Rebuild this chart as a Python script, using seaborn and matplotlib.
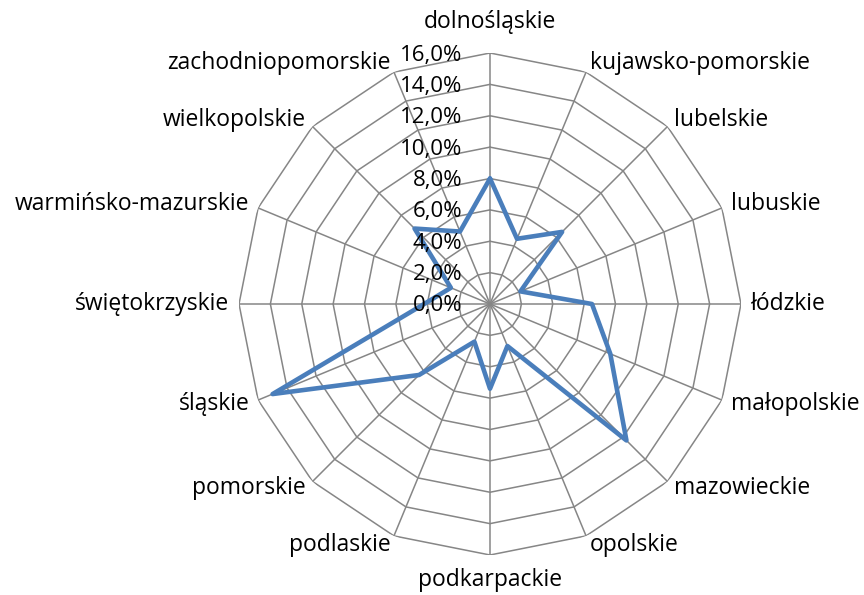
import numpy as np
import matplotlib
matplotlib.use("Agg")
import matplotlib.pyplot as plt
import seaborn as sns

# --- data ---
regions = ["dolnośląskie", "kujawsko-pomorskie", "lubelskie", "lubuskie", "łódzkie",
           "małopolskie", "mazowieckie", "opolskie", "podkarpackie", "podlaskie",
           "pomorskie", "śląskie", "świętokrzyskie", "warmińsko-mazurskie",
           "wielkopolskie", "zachodniopomorskie"]
shares = [8.0, 4.5, 6.5, 2.1, 6.5, 8.3, 12.3, 2.9, 5.4, 2.6, 6.4, 15.0, 4.2, 2.7, 6.8, 5.0]
r_ticks = [0, 2, 4, 6, 8, 10, 12, 14, 16]
r_tick_labels = ["0,0%", "2,0%", "4,0%", "6,0%", "8,0%", "10,0%", "12,0%", "14,0%", "16,0%"]

sns.set_style("white")
plt.rcParams['font.family'] = ['Open Sans', 'DejaVu Sans']

grid_col = "#868686"
line_col = "#4A7EBB"

fig = plt.figure(figsize=(8.64, 5.95), dpi=100)
ax = fig.add_axes([239 / 864, 40 / 595, 502 / 864, 502 / 595], projection="polar")
ax.set_theta_zero_location("N")
ax.set_theta_direction(-1)
ax.set_ylim(0, 16)
ax.grid(False)
ax.set_xticks([])
ax.set_yticks([])
ax.spines["polar"].set_visible(False)

n = len(regions)
angles = np.linspace(0, 2 * np.pi, n, endpoint=False)
closed = np.append(angles, 2 * np.pi)

# polygon rings (Excel style)
for r in r_ticks[1:]:
    ax.plot(closed, [r] * len(closed), color=grid_col, lw=1.1, zorder=1)
# spokes
for a in angles:
    ax.plot([a, a], [0, 16], color=grid_col, lw=1.1, zorder=1)

# series
vals = shares + [shares[0]]
sns.lineplot(x=closed, y=vals, sort=False, ax=ax, color=line_col, lw=3.3, zorder=3)

# radial tick labels along top axis
for r, lab in zip(r_ticks, r_tick_labels):
    ax.annotate(lab, xy=(0, r), xytext=(-28, -2), textcoords="offset pixels",
                ha="right", va="center", fontsize=16, color="black", zorder=4)

# category labels
for a, lab in zip(angles, regions):
    s = np.sin(a)
    c = np.cos(a)
    if abs(s) < 0.01:
        ha = "center"
        va = "bottom" if c > 0 else "top"
        rr = 17.2 if c > 0 else 16.8
    else:
        ha = "left" if s > 0 else "right"
        va = "center"
        rr = 16.6
    ax.text(a, rr, lab, ha=ha, va=va, fontsize=16.5, color="black")

ax.set_xlabel("")
ax.set_ylabel("")
fig.savefig("out.png", dpi=100, facecolor="white")
